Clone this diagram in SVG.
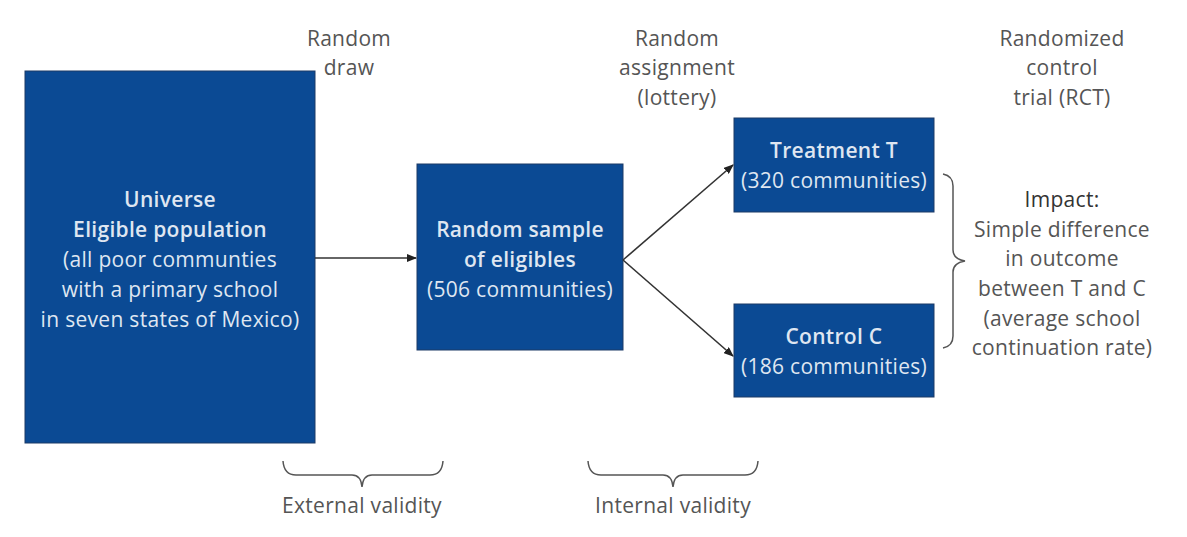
<svg xmlns="http://www.w3.org/2000/svg" width="1187" height="537" viewBox="0 0 1187 537">
<style>
.box{fill:#0b4a94;stroke:#1c3a66;stroke-width:1}
.bt{font-family:"Open Sans","Liberation Sans",sans-serif;font-size:21px;fill:#dfe6f1;text-anchor:middle;letter-spacing:0.3px}
.bb{font-weight:600}
.lb{font-family:"Open Sans","Liberation Sans",sans-serif;font-size:21px;fill:#555;text-anchor:middle;letter-spacing:0.3px}
.ln{stroke:#333;stroke-width:1.6;fill:none}
.br{stroke:#555;stroke-width:1.5;fill:none}
</style>
<defs>
<marker id="ah" markerWidth="10" markerHeight="8" refX="9" refY="4" orient="auto" markerUnits="userSpaceOnUse">
<path d="M0,0 L10,4 L0,8 Z" fill="#222"/>
</marker>
</defs>
<g id="universe">
<rect class="box" x="25" y="71" width="290" height="372"/>
<text class="bt bb" x="170" y="207">Universe</text>
<text class="bt bb" x="170" y="237">Eligible population</text>
<text class="bt" x="170" y="267">(all poor communties</text>
<text class="bt" x="170" y="297">with a primary school</text>
<text class="bt" x="170" y="327">in seven states of Mexico)</text>
</g>
<g id="sample">
<rect class="box" x="417" y="164" width="206" height="186"/>
<text class="bt bb" x="520" y="237">Random sample</text>
<text class="bt bb" x="520" y="267">of eligibles</text>
<text class="bt" x="520" y="297">(506 communities)</text>
</g>
<g id="treatment">
<rect class="box" x="734" y="118" width="200" height="94"/>
<text class="bt bb" x="834" y="158">Treatment T</text>
<text class="bt" x="834" y="188">(320 communities)</text>
</g>
<g id="control">
<rect class="box" x="734" y="304" width="200" height="93"/>
<text class="bt bb" x="834" y="344">Control C</text>
<text class="bt" x="834" y="374">(186 communities)</text>
</g>
<g id="connectors">
<line class="ln" x1="315" y1="258" x2="416" y2="258" marker-end="url(#ah)"/>
<line class="ln" x1="623" y1="260" x2="733" y2="165" marker-end="url(#ah)"/>
<line class="ln" x1="623" y1="260" x2="733" y2="356" marker-end="url(#ah)"/>
</g>
<g id="labels">
<text class="lb" x="349" y="46">Random</text>
<text class="lb" x="349" y="75">draw</text>
<text class="lb" x="677" y="46">Random</text>
<text class="lb" x="677" y="75">assignment</text>
<text class="lb" x="677" y="105">(lottery)</text>
<text class="lb" x="1062" y="46">Randomized</text>
<text class="lb" x="1062" y="75">control</text>
<text class="lb" x="1062" y="105">trial (RCT)</text>
</g>
<g id="impact">
<path class="br" d="M943,174 Q953,176 953,186 L953,250 Q953,259 965,261 Q953,263 953,272 L953,336 Q953,346 943,348"/>
<text class="lb" x="1062" y="207" style="fill:#333">Impact:</text>
<text class="lb" x="1062" y="237">Simple difference</text>
<text class="lb" x="1062" y="266">in outcome</text>
<text class="lb" x="1062" y="296">between T and C</text>
<text class="lb" x="1062" y="326">(average school</text>
<text class="lb" x="1062" y="355">continuation rate)</text>
</g>
<g id="external">
<path class="br" d="M283,461 Q284,475 296,475 L352,475 Q361,475 362,487 Q363,475 372,475 L430,475 Q442,475 443,461"/>
<text class="lb" x="362" y="513">External validity</text>
</g>
<g id="internal">
<path class="br" d="M588,461 Q589,475 601,475 L663,475 Q672,475 673,487 Q674,475 683,475 L745,475 Q757,475 758,461"/>
<text class="lb" x="673" y="513">Internal validity</text>
</g>
</svg>
